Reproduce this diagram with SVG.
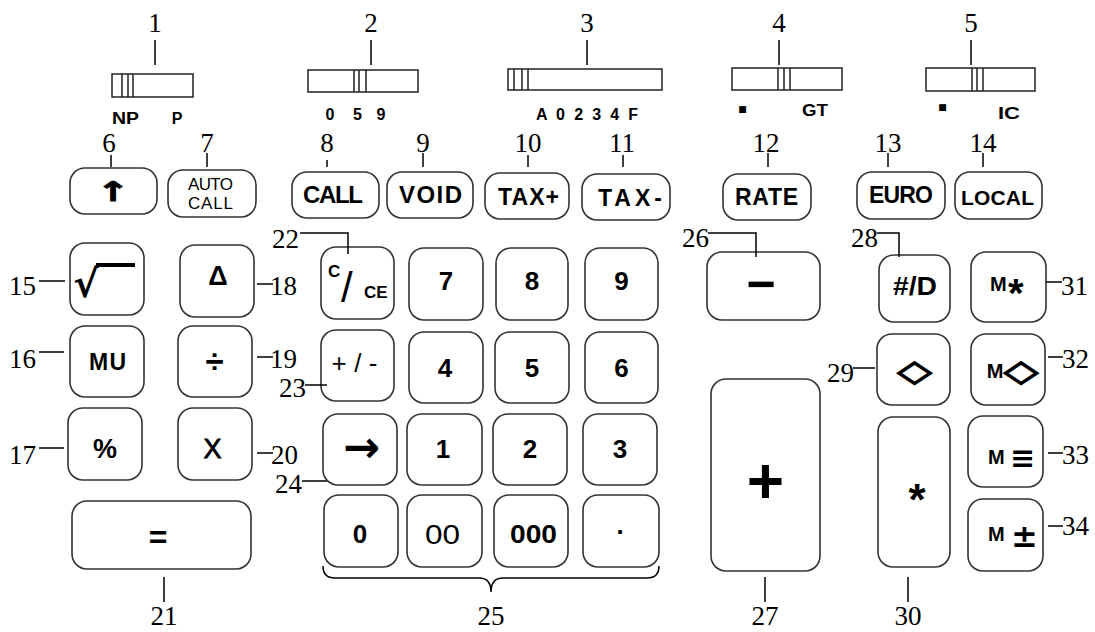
<svg xmlns="http://www.w3.org/2000/svg" width="1095" height="632" viewBox="0 0 1095 632">
<style>
.k{fill:#fff;stroke:#333;stroke-width:1.6}
.sw{fill:#fff;stroke:#222;stroke-width:1.5}
.kn{stroke:#222;stroke-width:1.5}
.n{font-family:"Liberation Serif","Times New Roman",serif;font-size:27px;fill:#000}
.c{text-anchor:middle}
.e{text-anchor:end}
.t{font-family:"Liberation Sans",Arial,sans-serif;font-weight:bold;fill:#000;text-anchor:middle}
.r{font-weight:normal}
.s{font-family:"Liberation Sans",Arial,sans-serif;font-weight:bold;font-size:16px;fill:#000}
.d{font-family:"DejaVu Sans",sans-serif;font-weight:bold;fill:#000;text-anchor:middle}
.o{stroke:#000;stroke-width:1.3}
.ld{stroke:#000;stroke-width:1.5;fill:none}
</style>
<rect width="1095" height="632" fill="#fff"/>

<!-- switches -->
<g id="sw1"><rect class="sw" x="112" y="74" width="81" height="23"/><path class="kn" d="M122 74V97M128 74V97M133 74V97"/>
<text class="s c" x="125.5" y="124" textLength="27" lengthAdjust="spacingAndGlyphs">NP</text><text class="s c" x="177" y="124">P</text></g>
<g id="sw2"><rect class="sw" x="308" y="70" width="110" height="22"/><path class="kn" d="M354 70V92M359 70V92M366 70V92"/>
<text class="s c" x="330" y="120">0</text><text class="s c" x="357.5" y="120">5</text><text class="s c" x="381" y="120">9</text></g>
<g id="sw3"><rect class="sw" x="508" y="69" width="154" height="21"/><path class="kn" d="M514 69V90M522 69V90M528 69V90"/>
<text class="s" x="536" y="120" textLength="102">A 0 2 3 4 F</text></g>
<g id="sw4"><rect class="sw" x="732" y="68" width="110" height="22"/><path class="kn" d="M778 68V90M784 68V90M790 68V90"/>
<text class="d r" x="742.5" y="112" font-size="9">■</text><text class="s c" x="815" y="116" textLength="26" lengthAdjust="spacingAndGlyphs">GT</text></g>
<g id="sw5"><rect class="sw" x="926" y="68" width="109" height="23"/><path class="kn" d="M972 68V91M977 68V91M983 68V91"/>
<text class="d r" x="942.5" y="110" font-size="9">■</text><text class="s c" x="1009" y="119" textLength="22" lengthAdjust="spacingAndGlyphs">IC</text></g>

<!-- top keys -->
<g id="k6"><rect class="k" x="70" y="168" width="87" height="46" rx="15"/><text class="d o" font-size="20" transform="translate(113 201) scale(2 1.35)" style="stroke-width:0.6">↑</text></g>
<g id="k7"><rect class="k" x="168" y="170" width="88" height="47" rx="15"/>
<text class="t r" x="210.5" y="190" font-size="17" textLength="45">AUTO</text><text class="t r" x="210.5" y="209" font-size="17" textLength="45">CALL</text></g>
<g id="k8"><rect class="k" x="292" y="172" width="87" height="46" rx="15"/><text class="t" x="333" y="203" font-size="24" textLength="60">CALL</text></g>
<g id="k9"><rect class="k" x="387" y="172" width="86" height="46" rx="15"/><text class="t" x="430.5" y="203" font-size="24" textLength="63">VOID</text></g>
<g id="k10"><rect class="k" x="485" y="173" width="84" height="46" rx="15"/><text class="t" x="528.5" y="205" font-size="23" textLength="61">TAX+</text></g>
<g id="k11"><rect class="k" x="582" y="174" width="88" height="46" rx="15"/><text class="t" x="630" y="206" font-size="23" textLength="64">TAX-</text></g>
<g id="k12"><rect class="k" x="723" y="174" width="88" height="46" rx="15"/><text class="t" x="766.5" y="205" font-size="23" textLength="63">RATE</text></g>
<g id="k13"><rect class="k" x="857" y="172" width="88" height="47" rx="15"/><text class="t" x="901" y="203" font-size="23" textLength="64">EURO</text></g>
<g id="k14"><rect class="k" x="955" y="172" width="87" height="47" rx="15"/><text class="t" x="997.5" y="205" font-size="21" textLength="73">LOCAL</text></g>

<!-- left block -->
<g id="k15"><rect class="k" x="70" y="243" width="74" height="72" rx="15"/><text class="d" x="86" y="297" font-size="38">√</text><rect x="96" y="263" width="39" height="4" fill="#000"/></g>
<g id="k18"><rect class="k" x="180" y="245" width="74" height="72" rx="15"/><text class="t" x="218" y="285" font-size="27">Δ</text></g>
<g id="k16"><rect class="k" x="70" y="326" width="74" height="71" rx="15"/><text class="t" x="107.5" y="370" font-size="23" textLength="37">MU</text></g>
<g id="k19"><rect class="k" x="178" y="326" width="74" height="71" rx="15"/><text class="t" x="214.5" y="373" font-size="33">÷</text></g>
<g id="k17"><rect class="k" x="68" y="408" width="74" height="72" rx="15"/><text class="t" x="105" y="458" font-size="27">%</text></g>
<g id="k20"><rect class="k" x="178" y="408" width="74" height="72" rx="15"/><text class="t r o" x="212.5" y="458" font-size="27" style="stroke-width:0.8">X</text></g>
<g id="k21"><rect class="k" x="72" y="501" width="179" height="68" rx="15"/><text class="t" x="158" y="548" font-size="32">=</text></g>

<!-- numeric block -->
<g id="k22"><rect class="k" x="321" y="247" width="73" height="72" rx="15"/>
<text class="t" style="text-anchor:start" font-size="17"><tspan x="328" y="277">C</tspan><tspan x="341" y="302" font-size="42" style="font-weight:normal">/</tspan><tspan x="364" y="298">CE</tspan></text></g>
<g id="k7d"><rect class="k" x="409" y="248" width="74" height="72" rx="15"/><text class="t" x="446" y="290" font-size="26">7</text></g>
<g id="k8d"><rect class="k" x="496" y="248" width="72" height="72" rx="15"/><text class="t" x="532" y="290" font-size="26">8</text></g>
<g id="k9d"><rect class="k" x="585" y="248" width="73" height="72" rx="15"/><text class="t" x="621.5" y="290" font-size="26">9</text></g>
<g id="k23"><rect class="k" x="321" y="330" width="73" height="71" rx="15"/><text class="t r" x="354.5" y="372" font-size="26" textLength="46">+/-</text></g>
<g id="k4"><rect class="k" x="409" y="332" width="74" height="71" rx="15"/><text class="t" x="445" y="377" font-size="26">4</text></g>
<g id="k5"><rect class="k" x="495" y="332" width="74" height="71" rx="15"/><text class="t" x="532" y="377" font-size="26">5</text></g>
<g id="k6d"><rect class="k" x="585" y="332" width="73" height="71" rx="15"/><text class="t" x="621.5" y="377" font-size="26">6</text></g>
<g id="k24"><rect class="k" x="323" y="414" width="74" height="71" rx="15"/><text class="d" x="361.5" y="462" font-size="44">→</text></g>
<g id="k1"><rect class="k" x="407" y="414" width="75" height="71" rx="15"/><text class="t" x="443" y="458" font-size="26">1</text></g>
<g id="k2"><rect class="k" x="493" y="414" width="74" height="71" rx="15"/><text class="t" x="530" y="458" font-size="26">2</text></g>
<g id="k3"><rect class="k" x="583" y="414" width="74" height="71" rx="15"/><text class="t" x="620" y="458" font-size="26">3</text></g>
<g id="k0"><rect class="k" x="324" y="495" width="74" height="72" rx="15"/><text class="t" x="360" y="543" font-size="26">0</text></g>
<g id="k00"><rect class="k" x="407" y="495" width="75" height="72" rx="15"/><text class="t r" x="442.5" y="544" font-size="27" textLength="35" lengthAdjust="spacingAndGlyphs">00</text></g>
<g id="k000"><rect class="k" x="494" y="495" width="74" height="72" rx="15"/><text class="t" x="533.5" y="543" font-size="26" textLength="47" lengthAdjust="spacingAndGlyphs">000</text></g>
<g id="kdot"><rect class="k" x="583" y="495" width="76" height="72" rx="15"/><text class="t" x="620" y="534" font-size="26">.</text></g>

<!-- right block -->
<g id="k26"><rect class="k" x="707" y="252" width="113" height="68" rx="15"/><text class="t" x="761" y="301" font-size="50">−</text></g>
<g id="k28"><rect class="k" x="879" y="255" width="71" height="67" rx="15"/><text class="t" x="915" y="295" font-size="25" textLength="44" lengthAdjust="spacingAndGlyphs">#/D</text></g>
<g id="k31"><rect class="k" x="971" y="252" width="75" height="70" rx="15"/><text class="t" style="text-anchor:start" font-size="20"><tspan x="990" y="291">M</tspan><tspan x="1008" y="307" font-size="40">*</tspan></text></g>
<g id="k29"><rect class="k" x="877" y="334" width="73" height="71" rx="15"/><text class="d o" font-size="30" transform="translate(914.5 381) scale(1.5 1)">◇</text></g>
<g id="k32"><rect class="k" x="971" y="334" width="74" height="71" rx="15"/><text class="t" x="995" y="378" font-size="20">M</text><text class="d o" font-size="30" transform="translate(1021 381) scale(1.5 1)">◇</text></g>
<g id="k27"><rect class="k" x="711" y="379" width="109" height="192" rx="15"/><text class="t" x="765.5" y="503" font-size="64">+</text></g>
<g id="k30"><rect class="k" x="878" y="417" width="72" height="150" rx="15"/><text class="t" x="917" y="515" font-size="44">*</text></g>
<g id="k33"><rect class="k" x="968" y="416" width="75" height="71" rx="15"/><text class="t" style="text-anchor:start" font-size="20"><tspan x="988" y="464">M</tspan><tspan x="1010" y="468" font-family="DejaVu Sans" font-size="30">≡</tspan></text></g>
<g id="k34"><rect class="k" x="968" y="499" width="75" height="72" rx="15"/><text class="t" style="text-anchor:start" font-size="20"><tspan x="988" y="541">M</tspan><tspan x="1011" y="547" font-family="DejaVu Sans" font-size="32">±</tspan></text></g>

<!-- callout numbers -->
<g id="labels">
<text class="n c" x="155" y="32">1</text><text class="n c" x="371" y="32">2</text><text class="n c" x="587" y="32">3</text><text class="n c" x="779" y="32">4</text><text class="n c" x="971" y="32">5</text>
<text class="n c" x="109" y="152">6</text><text class="n c" x="207" y="152">7</text><text class="n c" x="327" y="152">8</text><text class="n c" x="423" y="152">9</text><text class="n c" x="528" y="152">10</text><text class="n c" x="622" y="152">11</text><text class="n c" x="766" y="152">12</text><text class="n c" x="888" y="152">13</text><text class="n c" x="983" y="152">14</text>
<text class="n e" x="36" y="295">15</text><text class="n e" x="36" y="368">16</text><text class="n e" x="36" y="464">17</text>
<text class="n" x="270" y="295">18</text><text class="n" x="270" y="368">19</text><text class="n" x="271" y="464">20</text>
<text class="n c" x="164" y="625">21</text>
<text class="n e" x="299" y="248">22</text><text class="n e" x="306" y="397">23</text><text class="n e" x="302" y="493">24</text>
<text class="n c" x="491" y="625">25</text>
<text class="n e" x="709" y="247">26</text><text class="n c" x="765" y="625">27</text><text class="n e" x="878" y="247">28</text><text class="n e" x="854" y="382">29</text><text class="n c" x="908" y="625">30</text>
<text class="n" x="1061" y="295">31</text><text class="n" x="1062" y="368">32</text><text class="n" x="1062" y="464">33</text><text class="n" x="1062" y="535">34</text>
</g>

<!-- connectors -->
<g id="connectors" class="ld">
<path d="M155 40V65M371 40V65M587 40V65M779 40V65M971 40V65"/>
<path d="M111 155V167M207 153V167M327 160V167M423 153V167M528 155V167M623 155V167M768 153V167M888 153V167M983 153V167"/>
<path d="M39 281H65M39 352H64M39 448H64"/>
<path d="M257 284H273M257 357H273M257 453H273"/>
<path d="M164 577V602M765 577V602M908 577V602"/>
<path d="M300 233H348V254"/>
<path d="M305 385H327M302 481H327"/>
<path d="M708 233H756V257M877 233H899V257"/>
<path d="M853 368H875"/>
<path d="M1046 282H1062M1048 357H1063M1048 453H1063M1048 526H1063"/>
<path d="M323 566Q323 578 335 578H479Q491 578 491 592Q491 578 503 578H647Q659 578 659 566"/>
</g>
</svg>
